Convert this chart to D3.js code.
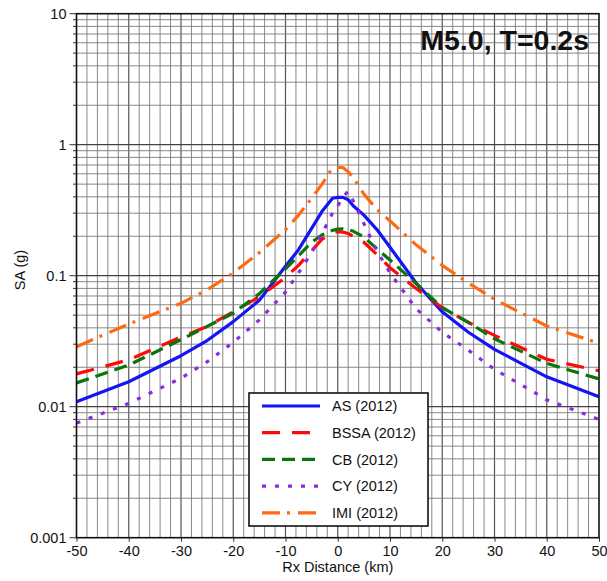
<!DOCTYPE html>
<html>
<head>
<meta charset="utf-8">
<script src="https://cdn.jsdelivr.net/npm/d3@7"></script>
<style>
  html, body { margin: 0; padding: 0; background: #fff; }
  svg { display: block; font-family: "Liberation Sans", Arial, Helvetica, sans-serif; }
</style>
</head>
<body>
<svg id="chart" width="607" height="581"></svg>
<script>
// ---- DATA ----
const distances = [-50, -40, -30, -25, -20, -15, -10, -7.5, -5, -3, -1, 0, 1, 2, 3, 5, 7.5, 10, 15, 20, 25, 30, 40, 50];
const seriesNames = ["AS (2012)", "BSSA (2012)", "CB (2012)", "CY (2012)", "IMI (2012)"];
const asValues   = [0.0109, 0.0155, 0.0245, 0.032, 0.0446, 0.065, 0.118, 0.158, 0.23, 0.31, 0.39, 0.396, 0.396, 0.38, 0.34, 0.29, 0.225, 0.165, 0.088, 0.053, 0.037, 0.0274, 0.0169, 0.0119];
const bssaValues = [0.0178, 0.0228, 0.034, 0.041, 0.053, 0.069, 0.097, 0.12, 0.155, 0.19, 0.212, 0.217, 0.215, 0.21, 0.2, 0.18, 0.145, 0.115, 0.08, 0.057, 0.044, 0.035, 0.023, 0.0188];
const cbValues   = [0.0152, 0.0208, 0.0325, 0.041, 0.0517, 0.073, 0.113, 0.142, 0.18, 0.205, 0.222, 0.227, 0.228, 0.225, 0.218, 0.198, 0.16, 0.132, 0.087, 0.057, 0.044, 0.033, 0.0214, 0.0163];
const cyValues   = [0.0075, 0.0106, 0.0165, 0.022, 0.031, 0.046, 0.075, 0.105, 0.15, 0.21, 0.30, 0.34, 0.40, 0.44, 0.37, 0.25, 0.155, 0.105, 0.056, 0.037, 0.027, 0.0193, 0.0113, 0.0080];
const imiValues  = [0.0287, 0.0428, 0.0615, 0.078, 0.105, 0.15, 0.225, 0.29, 0.39, 0.50, 0.67, 0.67, 0.67, 0.62, 0.56, 0.42, 0.32, 0.262, 0.172, 0.12, 0.088, 0.066, 0.0413, 0.0305];
const xTicks = [-50, -40, -30, -20, -10, 0, 10, 20, 30, 40, 50];
const yTickLabels = ["0.001", "0.01", "0.1", "1", "10"];
const titleText = "M5.0, T=0.2s";
const xTitle = "Rx Distance (km)";
const yTitle = "SA (g)";

// ---- STYLES ----
const styles = [
  { color: "#1414f5", dash: null },
  { color: "#ff0a0a", dash: "18,12" },
  { color: "#08760a", dash: "13,7" },
  { color: "#8a2be2", dash: "4,9" },
  { color: "#ff6a10", dash: "18,7,3,8" }
];
const allValues = [asValues, bssaValues, cbValues, cyValues, imiValues];

const L = 76.5, R = 599, T = 13.7, B = 537.7;
const svg = d3.select("#chart");
const x = d3.scaleLinear().domain([-50, 50]).range([L, R]);
const y = d3.scaleLog().domain([0.001, 10]).range([B, T]);

// ---- GRID ----
const grid = svg.append("g");
for (let d = -48; d <= 48; d += 2) {
  const major = d % 10 === 0;
  grid.append("line")
    .attr("x1", x(d)).attr("x2", x(d)).attr("y1", T).attr("y2", B)
    .attr("stroke", major ? "#555" : "#7a7a7a").attr("stroke-width", major ? 1.2 : 0.9);
}
const yGridVals = [];
for (let e = -3; e < 1; e++) for (let m = 1; m <= 9; m++) yGridVals.push(m * Math.pow(10, e));
yGridVals.forEach(v => {
  if (v <= 0.001 * 1.0001) return;
  const major = Math.abs(Math.log10(v) - Math.round(Math.log10(v))) < 1e-6;
  grid.append("line")
    .attr("x1", L).attr("x2", R).attr("y1", y(v)).attr("y2", y(v))
    .attr("stroke", major ? "#444" : "#7a7a7a").attr("stroke-width", major ? 1.2 : 0.9);
});

// ---- AXES (ticks) ----
yGridVals.concat([10]).forEach(v => {
  const major = Math.abs(Math.log10(v) - Math.round(Math.log10(v))) < 1e-6;
  svg.append("line").attr("x1", L - (major ? 7 : 3.5)).attr("x2", L)
    .attr("y1", y(v)).attr("y2", y(v)).attr("stroke", "#333").attr("stroke-width", 1);
});
yTickLabels.forEach(t => {
  svg.append("text").attr("x", L - 10).attr("y", y(+t)).attr("dy", "0.36em")
    .attr("text-anchor", "end").attr("font-size", 14.5).attr("fill", "#111").text(t);
});

const xAxis = d3.axisBottom(x).tickValues(xTicks).tickSize(4).tickPadding(4)
  .tickFormat(d3.format("d"));
const xAx = svg.append("g").attr("transform", `translate(0,${B})`).call(xAxis);
xAx.select(".domain").remove();
xAx.selectAll(".tick line").attr("stroke", "#333");
xAx.selectAll(".tick text").attr("font-size", 14.5).attr("fill", "#111")
  .attr("font-family", "Liberation Sans, Arial, sans-serif")
  .text(d => d < 0 ? "-" + Math.abs(d) : d);

// ---- LINES ----
const clip = svg.append("clipPath").attr("id", "plotclip");
clip.append("rect").attr("x", L).attr("y", T).attr("width", R - L).attr("height", B - T);
const lineGen = d3.line().x(d => x(d[0])).y(d => y(d[1]));
const linesG = svg.append("g").attr("clip-path", "url(#plotclip)");
allValues.forEach((vals, i) => {
  const pts = distances.map((d, k) => [d, vals[k]]);
  linesG.append("path").datum(pts)
    .attr("d", lineGen)
    .attr("fill", "none")
    .attr("stroke", styles[i].color)
    .attr("stroke-width", 3.2)
    .attr("stroke-linejoin", "round")
    .attr("stroke-dasharray", styles[i].dash);
});

// ---- FRAME ----
svg.append("rect").attr("x", L).attr("y", T).attr("width", R - L).attr("height", B - T)
  .attr("fill", "none").attr("stroke", "#111").attr("stroke-width", 1.6);

// ---- TITLE ----
svg.append("text").attr("x", 589).attr("y", 50).attr("text-anchor", "end")
  .attr("font-size", 28.5).attr("font-weight", "bold").attr("fill", "#111").text(titleText);

// ---- AXIS TITLES ----
svg.append("text").attr("x", (L + R) / 2).attr("y", 572).attr("text-anchor", "middle")
  .attr("font-size", 14.5).attr("fill", "#111").text(xTitle);
svg.append("text").attr("transform", "translate(25,270) rotate(-90)").attr("text-anchor", "middle")
  .attr("font-size", 14.5).attr("fill", "#111").text(yTitle);

// ---- LEGEND ----
const lg = svg.append("g");
lg.append("rect").attr("x", 249).attr("y", 393).attr("width", 179).attr("height", 133)
  .attr("fill", "#fff").attr("stroke", "#111").attr("stroke-width", 1.6);
seriesNames.forEach((name, i) => {
  const cy = 406 + i * 26.7;
  lg.append("line").attr("x1", 262).attr("x2", 320).attr("y1", cy).attr("y2", cy)
    .attr("stroke", styles[i].color).attr("stroke-width", 3.2)
    .attr("stroke-dasharray", styles[i].dash);
  lg.append("text").attr("x", 332).attr("y", cy).attr("dy", "0.36em")
    .attr("font-size", 14.5).attr("fill", "#111").text(name);
});
</script>
</body>
</html>
